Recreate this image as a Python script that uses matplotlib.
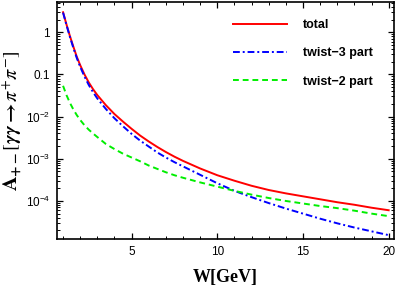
import matplotlib
matplotlib.use('Agg')
import numpy as np
import matplotlib.pyplot as plt
from matplotlib.ticker import FixedLocator, LogLocator, NullFormatter, MultipleLocator

# W grid (GeV); curves as log10 of A_{+-}
W = [1.0, 1.2, 1.4, 1.6, 1.8, 2.0, 2.25, 2.5, 2.75, 3.0, 3.5, 4.0, 4.5, 5.0,
     5.5, 6.0, 6.5, 7.0, 7.5, 8.0, 9.0, 10.0, 11.0, 12.0, 13.0, 14.0, 15.0,
     16.0, 17.0, 18.0, 19.0, 20.0]

total_log10 = [0.474, 0.184, -0.09, -0.34, -0.58, -0.78, -1.0, -1.19, -1.35,
               -1.49, -1.73, -1.94, -2.12, -2.29, -2.45, -2.59, -2.72, -2.84,
               -2.95, -3.05, -3.23, -3.39, -3.52, -3.64, -3.74, -3.82, -3.89,
               -3.96, -4.03, -4.09, -4.16, -4.22]

twist3_log10 = [0.466, 0.17, -0.11, -0.37, -0.61, -0.82, -1.05, -1.25, -1.42,
                -1.57, -1.82, -2.04, -2.23, -2.41, -2.57, -2.71, -2.85, -2.97,
                -3.08, -3.18, -3.38, -3.58, -3.76, -3.91, -4.05, -4.18, -4.30,
                -4.42, -4.53, -4.63, -4.72, -4.81]

twist2_log10 = [-1.27, -1.49, -1.674, -1.83, -1.964, -2.08, -2.205, -2.31, -2.40,
                -2.485, -2.65, -2.77, -2.88, -2.97, -3.06, -3.16, -3.24, -3.32,
                -3.39, -3.45, -3.56, -3.66, -3.76, -3.85, -3.93, -4.00, -4.06,
                -4.12, -4.17, -4.23, -4.30, -4.36]

ytick_vals = [1, 0.1, 1e-2, 1e-3, 1e-4]
ytick_labels = ['1', '0.1', r'$10^{-2}$', r'$10^{-3}$', r'$10^{-4}$']
xtick_vals = [5, 10, 15, 20]

plt.rcParams['font.family'] = ['Liberation Sans', 'DejaVu Sans']
plt.rcParams['mathtext.fontset'] = 'custom'
plt.rcParams['mathtext.rm'] = 'Liberation Sans'
plt.rcParams['mathtext.it'] = 'Liberation Sans:italic'
plt.rcParams['mathtext.bf'] = 'Liberation Sans:bold'

fig = plt.figure(figsize=(3.99, 2.91), dpi=100)
ax = fig.add_axes([0.143, 0.179, 0.844, 0.814])

ax.plot(W, np.power(10.0, total_log10), color='#ff0000', lw=1.4, label='total')
ax.plot(W, np.power(10.0, twist3_log10), color='#0000ff', lw=1.4,
        dashes=(3.5, 1.5, 1, 1.5), label='twist\u22123 part')
ax.plot(W, np.power(10.0, twist2_log10), color='#00ee00', lw=1.4,
        dashes=(3, 2), label='twist\u22122 part')

ax.set_yscale('log')
ax.set_xlim(0.65, 20.3)
ax.set_ylim(1.26e-5, 5.2)

ax.yaxis.set_major_locator(FixedLocator(ytick_vals))
ax.set_yticklabels(ytick_labels)
ax.yaxis.set_minor_locator(LogLocator(base=10, subs=range(2, 10), numticks=20))
ax.yaxis.set_minor_formatter(NullFormatter())
ax.xaxis.set_major_locator(FixedLocator(xtick_vals))
ax.xaxis.set_minor_locator(MultipleLocator(1))

ax.tick_params(which='both', direction='in', top=True, right=True,
               labelsize=8.5, colors='black')
ax.tick_params(which='major', length=4, width=0.9, pad=5)
ax.tick_params(which='minor', length=2, width=0.7)
for s in ax.spines.values():
    s.set_linewidth(1.2)

ax.set_xlabel('W[GeV]', fontfamily='Liberation Serif', fontweight='bold',
              fontsize=13, labelpad=8)
ax.set_ylabel(r'$\mathbf{A}_{\mathbf{+-}}[\boldsymbol{\gamma\gamma\rightarrow\pi^{+}\pi^{-}}]$',
              fontsize=14.5, labelpad=1, math_fontfamily='stix')

leg = ax.legend(loc='upper left', bbox_to_anchor=(0.49, 0.975), frameon=False,
                handlelength=4.3, handletextpad=1.3, labelspacing=1.3,
                prop={'family': 'Liberation Sans', 'weight': 'bold', 'size': 9})

fig.savefig('out.png', dpi=100)
